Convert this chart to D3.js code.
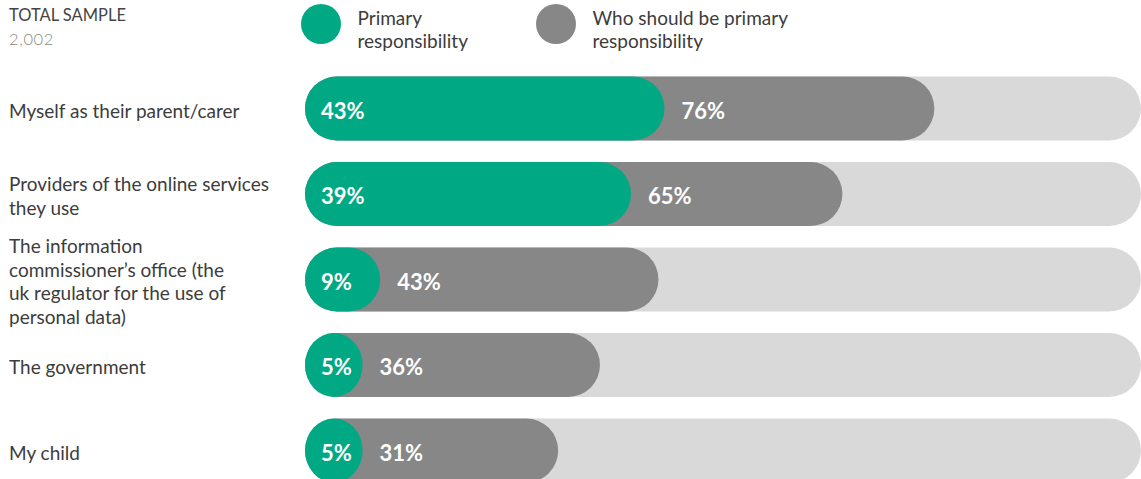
<!DOCTYPE html>
<html>
<head>
<meta charset="utf-8">
<script src="https://cdn.jsdelivr.net/npm/d3@7"></script>
<style>
  body { margin: 0; background: #fff; }
  svg { display: block; font-family: Lato, "Noto Sans", sans-serif; }
</style>
</head>
<body>
<div id="chart"></div>
<script>
// Data
const categories = [
  ["Myself as their parent/carer"],
  ["Providers of the online services", "they use"],
  ["The information", "commissioner\u2019s office (the", "uk regulator for the use of", "personal data)"],
  ["The government"],
  ["My child"]
];
const primary = [43, 39, 9, 5, 5];
const shouldBe = [76, 65, 43, 36, 31];
const legendLabels = [["Primary", "responsibility"], ["Who should be primary", "responsibility"]];
const sampleTitle = "TOTAL SAMPLE";
const sampleSize = "2,002";

const svgWidth = 1141;
const svgHeight = 479;
const barH = 64;
const green = "#00a984";
const grey = "#878787";
const track = "#d9d9d9";

const svg = d3.select("#chart")
  .append("svg")
  .attr("width", svgWidth)
  .attr("height", svgHeight);

const rows = categories.map((c, i) => ({ label: c, p: primary[i], s: shouldBe[i], i }));

// scales
const x = d3.scaleLinear().domain([0, 100]).range([305, 1141]);
const y = d3.scalePoint().domain(d3.range(rows.length)).range([108.5, 450.5]);

// sample header
svg.append("text").attr("x", 9).attr("y", 21)
  .attr("font-size", 16.5).attr("fill", "#444").text(sampleTitle);
svg.append("text").attr("x", 9).attr("y", 45)
  .attr("font-size", 16.5).attr("font-weight", 300).attr("letter-spacing", 0.6)
  .attr("fill", "#888").text(sampleSize);

// legend
const legend = svg.append("g");
[[321, green], [556, grey]].forEach(([cx, col], k) => {
  legend.append("circle").attr("cx", cx).attr("cy", 24).attr("r", 20).attr("fill", col);
  const t = legend.append("text").attr("font-size", 19).attr("fill", "#3c3c3c");
  legendLabels[k].forEach((line, j) => {
    t.append("tspan").attr("x", cx + 36.5).attr("y", 25 + j * 23).text(line);
  });
});

// category labels
const lh = 23.5;
svg.append("g").selectAll("text")
  .data(rows)
  .join("text")
  .attr("font-size", 19)
  .attr("fill", "#3c3c3c")
  .each(function (d) {
    const n = d.label.length;
    const y0 = y(d.i) + 9 - (n - 1) * lh / 2;
    d3.select(this).selectAll("tspan")
      .data(d.label)
      .join("tspan")
      .attr("x", 9)
      .attr("y", (l, j) => y0 + j * lh)
      .text(l => l);
  });

const bars = svg.append("g").selectAll("g")
  .data(rows)
  .join("g")
  .attr("transform", d => `translate(0, ${y(d.i) - barH / 2})`);

// background track
bars.append("rect")
  .attr("x", x(0)).attr("width", x(100) - x(0))
  .attr("height", barH).attr("rx", barH / 2).attr("fill", track);

// who should be
bars.append("rect")
  .attr("x", x(0)).attr("width", d => x(d.s) - x(0) - 6)
  .attr("height", barH).attr("rx", barH / 2).attr("fill", grey);

// primary
const greenW = d => Math.max(x(d.p) - x(0), barH * 0.9);
bars.append("rect")
  .attr("x", x(0)).attr("width", greenW)
  .attr("height", barH).attr("rx", barH / 2).attr("fill", green);

// value labels
bars.append("text")
  .attr("x", x(0) + 16).attr("y", barH / 2 + 10)
  .attr("font-size", 22).attr("font-weight", 700).attr("fill", "#fff")
  .text(d => d.p + "%");

bars.append("text")
  .attr("x", d => x(0) + greenW(d) + 17).attr("y", barH / 2 + 10)
  .attr("font-size", 22).attr("font-weight", 700).attr("fill", "#fff")
  .text(d => d.s + "%");
</script>
</body>
</html>
